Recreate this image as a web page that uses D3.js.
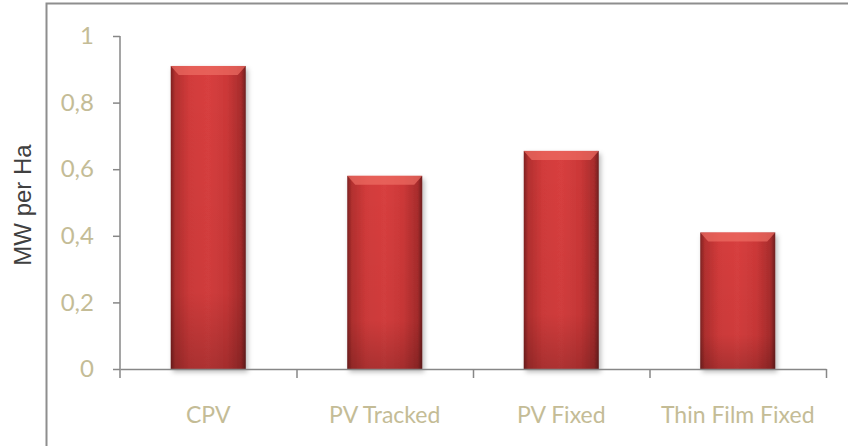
<!DOCTYPE html>
<html lang="en">
<head>
    <meta charset="utf-8">
    <title>MW per Ha</title>
    <script src="https://d3js.org/d3.v7.min.js"></script>
    <style>
        body { margin: 0; background: #fff; }
    </style>
</head>
<body>
<svg width="848" height="446"></svg>
<script>
    var categories = ["CPV", "PV Tracked", "PV Fixed", "Thin Film Fixed"];
    var values = [0.91, 0.58, 0.655, 0.41];
    var yTicks = [0, 0.2, 0.4, 0.6, 0.8, 1];

    var svg = d3.select("svg");
    var plot = {left: 120, right: 826, top: 36, bottom: 369};

    // frame round the chart area (runs off the image on right and bottom)
    svg.append("path")
        .attr("d", "M46.5,460V3.5H860")
        .attr("fill", "none")
        .attr("stroke", "#8e8e8e")
        .attr("stroke-width", 2);

    var xScale = d3.scaleBand()
        .domain(categories)
        .range([plot.left, plot.right])
        .paddingInner(0.575)
        .paddingOuter(0.2875);

    var yScale = d3.scaleLinear()
        .domain([0, 1])
        .range([plot.bottom, plot.top]);

    var defs = svg.append("defs");
    var grad = defs.append("linearGradient").attr("id", "barH")
        .attr("x1", 0).attr("x2", 1).attr("y1", 0).attr("y2", 0);
    [[0, "#7e2222"], [0.06, "#b3302f"], [0.25, "#d23b3b"], [0.5, "#d83f3f"],
     [0.75, "#cc3838"], [0.94, "#a82c2c"], [1, "#6e1e1e"]].forEach(function(s){
        grad.append("stop").attr("offset", s[0]).attr("stop-color", s[1]);
    });
    var gradV = defs.append("linearGradient").attr("id", "barV")
        .attr("x1", 0).attr("x2", 0).attr("y1", 0).attr("y2", 1);
    [[0, "#000", 0], [0.75, "#000", 0.04], [1, "#000", 0.2]].forEach(function(s){
        gradV.append("stop").attr("offset", s[0]).attr("stop-color", s[1]).attr("stop-opacity", s[2]);
    });
    var shadow = defs.append("filter").attr("id", "shadow")
        .attr("x", "-20%").attr("y", "-5%").attr("width", "140%").attr("height", "115%");
    shadow.append("feDropShadow").attr("dx", 2).attr("dy", 3).attr("stdDeviation", 2.5)
        .attr("flood-color", "#000").attr("flood-opacity", 0.28);

    var g = svg.append("g");
    var bars = g.selectAll(".bar")
        .data(values)
        .enter()
        .append("g")
        .attr("class", "bar");

    bars.append("rect")
        .attr("x", function(d, i){ return xScale(categories[i]); })
        .attr("y", function(d){ return yScale(d); })
        .attr("width", xScale.bandwidth())
        .attr("height", function(d){ return yScale(0) - yScale(d); })
        .attr("fill", "url(#barH)")
        .attr("filter", "url(#shadow)");

    bars.append("rect")
        .attr("x", function(d, i){ return xScale(categories[i]); })
        .attr("y", function(d){ return yScale(d); })
        .attr("width", xScale.bandwidth())
        .attr("height", function(d){ return yScale(0) - yScale(d); })
        .attr("fill", "url(#barV)");

    // light bevel on top of each bar
    bars.append("path")
        .attr("d", function(d, i){
            var x0 = xScale(categories[i]), x1 = x0 + xScale.bandwidth(), y0 = yScale(d);
            return "M" + x0 + "," + y0 + "H" + x1 + "L" + (x1 - 8) + "," + (y0 + 9) +
                "H" + (x0 + 8) + "Z";
        })
        .attr("fill", "#ee6d64")
        .attr("opacity", 0.7);

    // y axis
    var yAxis = d3.axisLeft(yScale)
        .tickValues(yTicks)
        .tickSize(7)
        .tickSizeOuter(0)
        .tickPadding(19)
        .tickFormat(function(d){ return String(d).replace(".", ","); });
    var ya = g.append("g")
        .attr("transform", "translate(" + plot.left + ",0)")
        .call(yAxis);
    ya.select(".domain").remove();
    ya.append("line")
        .attr("x1", 0).attr("x2", 0)
        .attr("y1", yScale(1)).attr("y2", yScale(0) + 9)
        .attr("stroke", "#878787").attr("stroke-width", 1.5);
    ya.selectAll(".tick line").attr("stroke", "#878787").attr("stroke-width", 1.5);
    ya.selectAll(".tick text")
        .attr("fill", "#c4bc96")
        .style("font-family", "Lato, 'Open Sans', sans-serif")
        .style("font-size", "24px");

    // x axis: category labels
    var xAxis = d3.axisBottom(xScale).tickSize(0).tickPadding(54);
    var xa = g.append("g")
        .attr("transform", "translate(0," + plot.bottom + ")")
        .call(xAxis);
    xa.select(".domain").remove();
    xa.selectAll(".tick text")
        .attr("fill", "#c4bc96")
        .attr("dy", "0")
        .style("font-family", "Lato, 'Open Sans', sans-serif")
        .style("font-size", "23px");

    // x axis: ticks between categories
    var edge = d3.scaleLinear().domain([0, categories.length]).range([plot.left, plot.right]);
    var xb = g.append("g")
        .attr("transform", "translate(0," + plot.bottom + ")")
        .call(d3.axisBottom(edge).ticks(categories.length).tickSize(9).tickSizeOuter(0).tickFormat(""));
    xb.select(".domain").attr("stroke", "#878787").attr("stroke-width", 1.5);
    xb.selectAll(".tick line").attr("stroke", "#878787").attr("stroke-width", 1.5);
    xb.selectAll(".tick").filter(function(d){ return d === 0; }).remove();

    // y title
    svg.append("text")
        .attr("transform", "translate(31,205) rotate(-90)")
        .attr("text-anchor", "middle")
        .attr("fill", "#404040")
        .style("font-family", "'Liberation Sans', Arial, sans-serif")
        .style("font-size", "24px")
        .text("MW per Ha");
</script>
</body>
</html>
